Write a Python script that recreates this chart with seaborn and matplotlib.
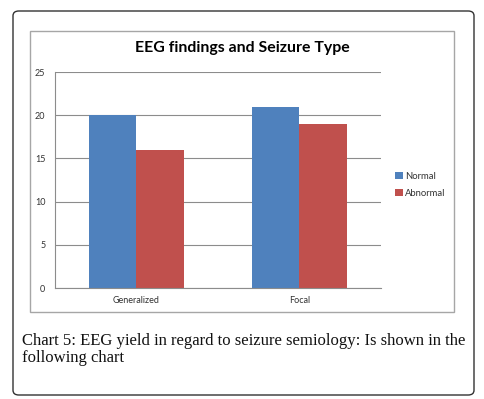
import matplotlib
matplotlib.use("Agg")
import matplotlib.pyplot as plt
from matplotlib.patches import FancyBboxPatch, Rectangle
import seaborn as sns
import pandas as pd

categories = ["Generalized", "Focal"]
series = ["Normal", "Abnormal"]
normal_vals = [20, 21]
abnormal_vals = [16, 19]
yticks = [0, 5, 10, 15, 20, 25]
colors = ["#4F81BD", "#C0504D"]

df = pd.DataFrame({
    "cat": categories * 2,
    "series": ["Normal"] * 2 + ["Abnormal"] * 2,
    "val": normal_vals + abnormal_vals,
})

sns.set_theme(style="white")
plt.rcParams['font.family'] = ['Lato', 'DejaVu Sans']

W, H = 485, 399
fig = plt.figure(figsize=(W / 100, H / 100), dpi=100)

def fx(x): return x / W
def fy(y): return 1 - y / H

# outer rounded border
fig.patches.append(FancyBboxPatch((fx(13), fy(395)), fx(474) - fx(13), fy(11) - fy(395),
                                  boxstyle="round,pad=0,rounding_size=0.012",
                                  transform=fig.transFigure, fill=False,
                                  edgecolor="#333333", linewidth=1.0))
# inner chart box
fig.patches.append(Rectangle((fx(30), fy(312)), fx(454) - fx(30), fy(31) - fy(312),
                             transform=fig.transFigure, fill=False,
                             edgecolor="#A6A6A6", linewidth=1.0))

ax = fig.add_axes([fx(55), fy(288), fx(381) - fx(55), fy(72) - fy(288)])
sns.barplot(data=df, x="cat", y="val", hue="series", palette=colors,
            ax=ax, width=0.58, saturation=1, order=categories, hue_order=series,
            linewidth=0, edgecolor="none")

ax.set_ylim(0, 25)
ax.set_yticks(yticks)
ax.set_yticklabels([str(t) for t in yticks], fontsize=6.5, color="#333333")
ax.yaxis.grid(True, color="#8C8C8C", linewidth=0.8)
ax.set_axisbelow(True)
ax.set_xlabel("")
ax.set_ylabel("")
ax.set_xlim(-0.5, 1.5)
ax.set_xticks([-0.5, 0.5, 1.5], minor=False)
ax.set_xticklabels([])
ax.set_xticks([0, 1], minor=True)
ax.set_xticklabels(categories, minor=True, fontsize=6.5, color="#333333")
ax.tick_params(axis="x", which="major", length=3, color="#8C8C8C", width=0.8)
ax.tick_params(axis="x", which="minor", length=0, pad=6)
ax.tick_params(axis="y", length=3, color="#8C8C8C", width=0.8, pad=4)
for s in ["top", "right"]:
    ax.spines[s].set_visible(False)
for s in ["left", "bottom"]:
    ax.spines[s].set_color("#8C8C8C")
    ax.spines[s].set_linewidth(0.8)

leg = ax.legend(loc="upper left", bbox_to_anchor=(fx(395), fy(172)),
                bbox_transform=fig.transFigure, frameon=False, fontsize=6.8,
                handlelength=0.8, handleheight=0.8, handletextpad=0.25,
                labelspacing=0.8, borderaxespad=0, borderpad=0)
for t in leg.get_texts():
    t.set_color("#333333")

fig.text(0.5, fy(48), "EEG findings and Seizure Type", ha="center", va="center",
         fontsize=11.4, fontweight="bold", color="#000000")

fig.text(fx(22), fy(341), "Chart 5: EEG yield in regard to seizure semiology: Is shown in the",
         ha="left", va="center", fontsize=12, family="Liberation Serif", color="#111111")
fig.text(fx(22), fy(358), "following chart",
         ha="left", va="center", fontsize=12, family="Liberation Serif", color="#111111")

fig.savefig("out.png", dpi=100)
